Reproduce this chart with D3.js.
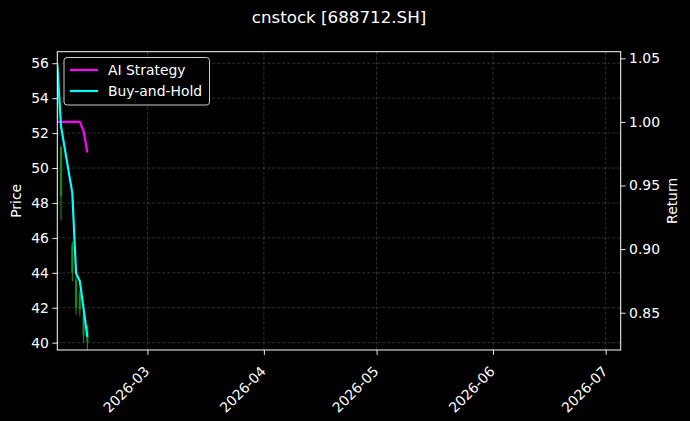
<!DOCTYPE html>
<html><head><meta charset="utf-8">
<script src="https://cdn.jsdelivr.net/npm/d3@7"></script>
<style>
html,body{margin:0;padding:0;background:#000;}
text{font-family:"DejaVu Sans",sans-serif;fill:#fff;}
</style></head>
<body><svg id="c" width="690" height="421"></svg>
<script>
const title = "cnstock [688712.SH]";
const dates = ["2026-02-05","2026-02-06","2026-02-09","2026-02-10","2026-02-11","2026-02-12","2026-02-13"];
const opens  = [55.8, 51.2, 45.6, 43.6, 42.8, 41.5, 40.9];
const highs  = [55.85, 51.3, 45.8, 43.8, 43.0, 41.8, 41.0];
const lows   = [52.6, 47.0, 43.5, 41.6, 41.5, 40.0, 39.5];
const closes = [52.8, 48.4, 44.0, 42.0, 41.9, 40.4, 40.0];
const aiStrategy  = [1.0, 1.0, 1.0, 1.0, 1.0, 0.9927, 0.976];
const buyAndHold  = [1.045, 0.9964, 0.944, 0.881, 0.8748, 0.853, 0.831];
const xDomain = ["2026-02-05","2026-07-05"];
const xTicks = ["2026-03-01","2026-04-01","2026-05-01","2026-06-01","2026-07-01"];
const priceTicks = [40,42,44,46,48,50,52,54,56];
const returnTicks = [0.85,0.90,0.95,1.00,1.05];
const seriesNames = ["AI Strategy","Buy-and-Hold"];
const seriesColors = ["#ff00ff","#00ffff"];

const parse = d3.utcParse("%Y-%m-%d");
const L = 57.3, R = 620.7, T = 51.7, B = 350;
const svg = d3.select("#c");
svg.append("rect").attr("width",690).attr("height",421).attr("fill","#000");

const x = d3.scaleUtc().domain(xDomain.map(parse)).range([L,R]);
const yP = d3.scaleLinear().domain([39.58,56.66]).range([B,T]);
const yR = d3.scaleLinear().domain([0.8207,1.0552]).range([B,T]);

svg.append("defs").append("clipPath").attr("id","clip")
  .append("rect").attr("x",L).attr("y",T).attr("width",R-L).attr("height",B-T);

// grid
const grid = svg.append("g");
grid.selectAll("line.h").data(priceTicks).join("line")
  .attr("x1",L).attr("x2",R).attr("y1",d=>yP(d)).attr("y2",d=>yP(d))
  .attr("stroke","#555").attr("stroke-width",0.6).attr("stroke-dasharray","3,2");
grid.selectAll("line.v").data(xTicks).join("line")
  .attr("x1",d=>x(parse(d))).attr("x2",d=>x(parse(d))).attr("y1",T).attr("y2",B)
  .attr("stroke","#555").attr("stroke-width",0.6).attr("stroke-dasharray","3,2");

const plot = svg.append("g").attr("clip-path","url(#clip)");
// candles
const candles = dates.map((d,i)=>({d:parse(d),o:opens[i],h:highs[i],l:lows[i],c:closes[i]}));
const cw = x(parse("2026-02-06")) - x(parse("2026-02-05"));
plot.selectAll("line.wick").data(candles).join("line")
  .attr("x1",d=>x(d.d)).attr("x2",d=>x(d.d)).attr("y1",d=>yP(d.h)).attr("y2",d=>yP(d.l))
  .attr("stroke","#1f9a1f").attr("stroke-width",1);
plot.selectAll("rect.body").data(candles).join("rect")
  .attr("x",d=>x(d.d)-cw*0.3).attr("width",cw*0.6)
  .attr("y",d=>yP(Math.max(d.o,d.c))).attr("height",d=>Math.abs(yP(d.o)-yP(d.c)))
  .attr("fill","#1c8f1c").attr("opacity",0.85);

// lines
const line = d3.line().x(d=>x(d[0])).y(d=>yR(d[1]));
[aiStrategy, buyAndHold].forEach((s,k)=>{
  plot.append("path").datum(dates.map((d,i)=>[parse(d),s[i]]))
    .attr("d",line).attr("fill","none").attr("stroke",seriesColors[k])
    .attr("stroke-width",2.2).attr("stroke-linejoin","round");
});

// frame
svg.append("rect").attr("x",L).attr("y",T).attr("width",R-L).attr("height",B-T)
  .attr("fill","none").attr("stroke","#fff").attr("stroke-width",1);

// axes
const fs = "13.9px";
const axL = svg.append("g").attr("transform",`translate(${L},0)`)
  .call(d3.axisLeft(yP).tickValues(priceTicks).tickSize(4.9).tickPadding(3.5).tickFormat(d3.format("d")));
const axR = svg.append("g").attr("transform",`translate(${R},0)`)
  .call(d3.axisRight(yR).tickValues(returnTicks).tickSize(4.9).tickPadding(3.5).tickFormat(d3.format(".2f")));
const axB = svg.append("g").attr("transform",`translate(0,${B})`)
  .call(d3.axisBottom(x).tickValues(xTicks.map(parse)).tickSize(4.9).tickFormat(d3.utcFormat("%Y-%m")));
[axL,axR,axB].forEach(a=>{
  a.select(".domain").remove();
  a.selectAll(".tick line").attr("stroke","#fff").attr("stroke-width",0.9);
  a.selectAll(".tick text").attr("fill","#fff").style("font-size",fs);
});
axB.selectAll(".tick text").attr("text-anchor","end").attr("dy",null).attr("y",null)
  .attr("transform","translate(-5,15) rotate(-45)").attr("dominant-baseline","hanging");

// labels
svg.append("text").attr("transform",`translate(21,${(T+B)/2}) rotate(-90)`)
  .attr("text-anchor","middle").style("font-size",fs).text("Price");
svg.append("text").attr("transform",`translate(677,${(T+B)/2}) rotate(-90)`)
  .attr("text-anchor","middle").style("font-size",fs).text("Return");
svg.append("text").attr("x",(L+R)/2).attr("y",23).attr("text-anchor","middle")
  .style("font-size","16.7px").text(title);

// legend
const lg = svg.append("g");
lg.append("rect").attr("x",64).attr("y",57.5).attr("width",145.5).attr("height",47.5)
  .attr("rx",3).attr("fill","#000").attr("fill-opacity",0.8).attr("stroke","#ccc").attr("stroke-width",1);
seriesNames.forEach((n,i)=>{
  const yy = 70 + i*21;
  lg.append("line").attr("x1",70).attr("x2",98).attr("y1",yy).attr("y2",yy)
    .attr("stroke",seriesColors[i]).attr("stroke-width",2.2);
  lg.append("text").attr("x",108).attr("y",yy+4.8).style("font-size",fs).text(n);
});
</script></body></html>
